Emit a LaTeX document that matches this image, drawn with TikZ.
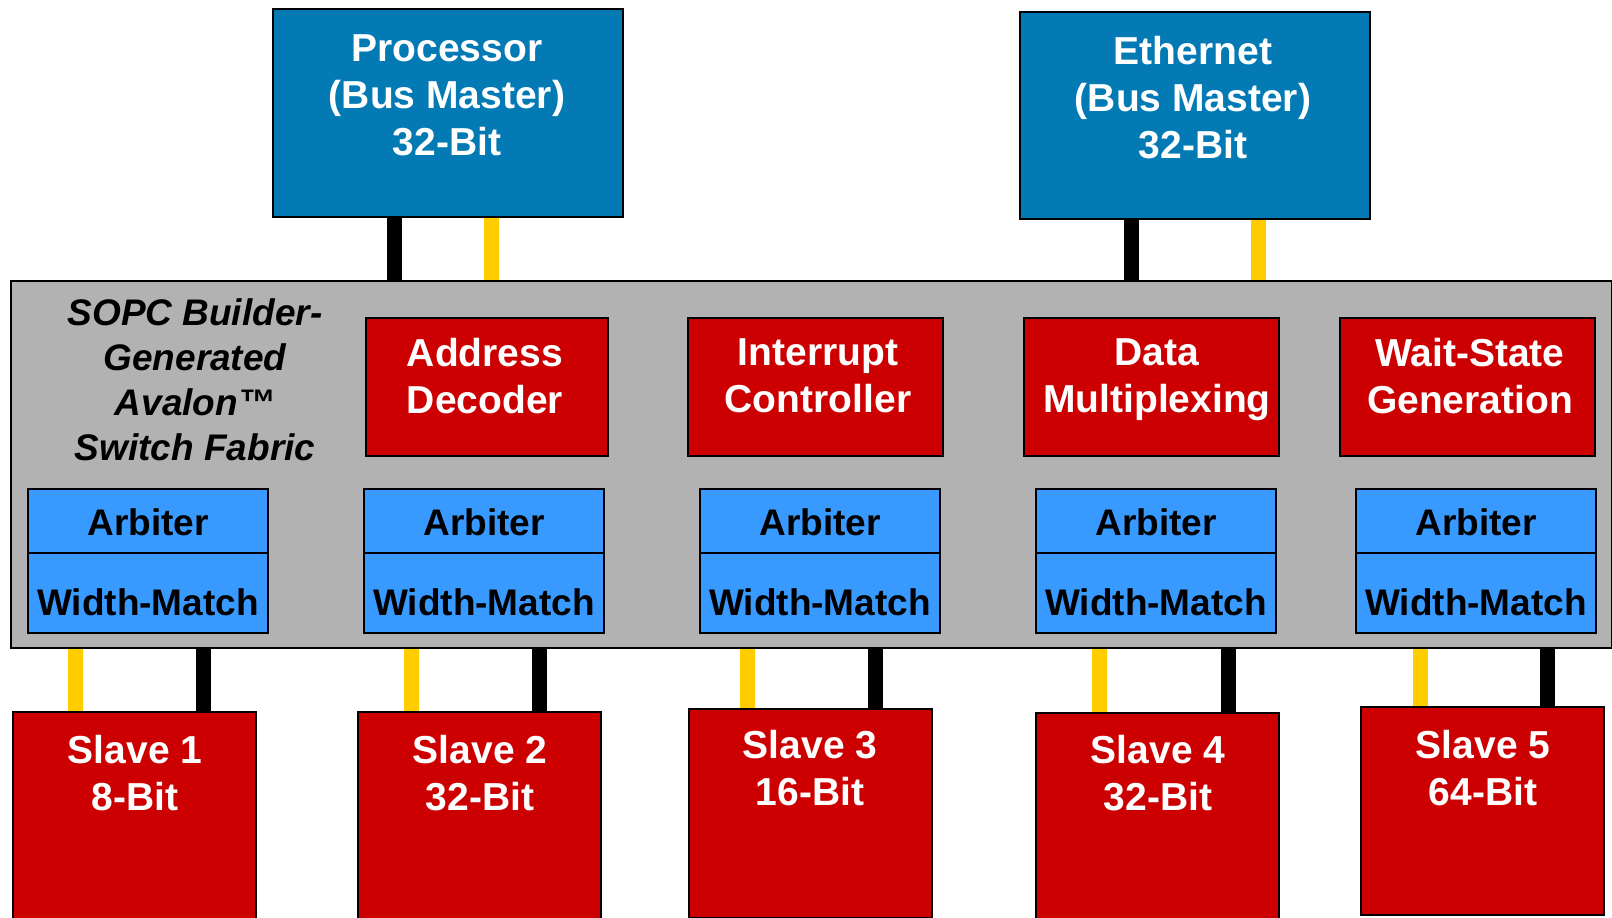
\documentclass[tikz,border=0pt]{standalone}
\usepackage{fontspec}
\setmainfont{Liberation Sans}
\usetikzlibrary{backgrounds,calc}
\definecolor{mblue}{RGB}{4,122,181}
\definecolor{fred}{RGB}{204,0,0}
\definecolor{fgray}{RGB}{178,178,178}
\definecolor{ablue}{RGB}{56,153,255}
\definecolor{byel}{RGB}{255,204,0}
\begin{document}
\begin{tikzpicture}[x=1pt,y=-1pt,
  box/.style={draw=black, line width=2pt, inner sep=0pt, anchor=north west, rectangle},
  master/.style={box, fill=mblue},
  func/.style={box, fill=fred},
  fabric/.style={box, fill=fgray},
  arb/.style={box, fill=ablue, minimum width=240pt},
  slavebox/.style={box, fill=fred, minimum width=243pt},
  wtxt/.style={align=center, inner sep=0pt, text=white, font=\fontsize{39}{47}\selectfont\bfseries},
  ktxt/.style={align=center, inner sep=0pt, text=black, font=\fontsize{37}{45}\selectfont\bfseries},
  ttl/.style={align=center, inner sep=0pt, text=black, font=\fontsize{37}{45}\selectfont\bfseries\itshape},
  bbus/.style={draw=black, line width=15pt},
  ybus/.style={draw=byel, line width=15pt}]
\clip (0,0) rectangle (1612,918);
\useasboundingbox (0,0) rectangle (1612,918);
% masters
\node[master, minimum width=350pt, minimum height=208pt] (proc) at (272,8) {};
\node[master, minimum width=350pt, minimum height=207pt] (eth) at (1019,11) {};
\node[wtxt] (proct) at (447,95) {Processor\\(Bus Master)\\32-Bit};
\node[wtxt] (etht) at (1193,98) {Ethernet\\(Bus Master)\\32-Bit};
% fabric
\node[fabric, minimum width=1601pt, minimum height=367pt] (fab) at (10,280) {};
\node[ttl] (title) at (195,380) {SOPC Builder-\\Generated\\Avalon™\\Switch Fabric};
% function blocks
\node[func, minimum width=242pt, minimum height=138pt] (addr) at (365,317) {};
\node[func, minimum width=255pt, minimum height=138pt] (intr) at (687,317) {};
\node[func, minimum width=255pt, minimum height=138pt] (data) at (1023,317) {};
\node[func, minimum width=255pt, minimum height=138pt] (wait) at (1339,317) {};
\node[wtxt] (addrt) at (485,376) {Address\\Decoder};
\node[wtxt] (intrt) at (818,376) {Interrupt\\Controller};
\node[wtxt] (datat) at (1157,380) {Data\\Multiplexing};
\node[wtxt] (waitt) at (1470,376) {Wait-State\\Generation};
% arbiters
\foreach \i/\x in {1/27,2/363,3/699,4/1035,5/1355}{
  \node[arb, minimum height=64pt] (arb\i) at (\x,488) {};
  \node[arb, minimum height=80pt] (wm\i) at (\x,552) {};
  \node[ktxt] (arbt\i) at ($(arb\i.center)+(0,1)$) {Arbiter};
  \node[ktxt] (wmt\i) at ($(wm\i.center)+(0,9)$) {Width-Match};
}
% slaves
\node[slavebox, minimum height=220pt] (s1) at (12,711) {};
\node[slavebox, minimum height=220pt] (s2) at (357,711) {};
\node[slavebox, minimum height=209pt] (s3) at (688,708) {};
\node[slavebox, minimum height=220pt] (s4) at (1035,712) {};
\node[slavebox, minimum height=208pt] (s5) at (1360,706) {};
\node[wtxt] (s1t) at (135,773) {Slave 1\\8-Bit};
\node[wtxt] (s2t) at (480,773) {Slave 2\\32-Bit};
\node[wtxt] (s3t) at (810,768) {Slave 3\\16-Bit};
\node[wtxt] (s4t) at (1158,773) {Slave 4\\32-Bit};
\node[wtxt] (s5t) at (1483,768) {Slave 5\\64-Bit};
% connector x positions
\coordinate (pb) at (394,0);
\coordinate (py) at (491,0);
\coordinate (eb) at (1131,0);
\coordinate (ey) at (1258,0);
\begin{scope}[on background layer]
  \fill[white] (0,0) rectangle (1612,918);
  \draw[bbus] (proc.south -| pb) -- (fab.north -| pb);
  \draw[ybus] (proc.south -| py) -- (fab.north -| py);
  \draw[bbus] (eth.south -| eb) -- (fab.north -| eb);
  \draw[ybus] (eth.south -| ey) -- (fab.north -| ey);
  \foreach \i/\yx/\bx in {1/75/203,2/411/539,3/747/875,4/1099/1228,5/1420/1547}{
    \coordinate (cy\i) at (\yx,0);
    \coordinate (cb\i) at (\bx,0);
    \draw[ybus] (fab.south -| cy\i) -- (s\i.north -| cy\i);
    \draw[bbus] (fab.south -| cb\i) -- (s\i.north -| cb\i);
  }
\end{scope}
\end{tikzpicture}
\end{document}
